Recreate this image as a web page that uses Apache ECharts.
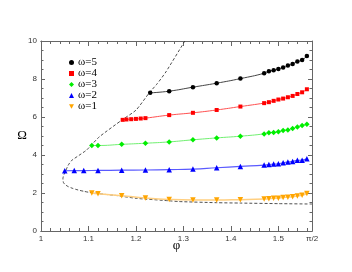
<!DOCTYPE html>
<html>
<head>
<meta charset="utf-8">
<script src="https://cdn.jsdelivr.net/npm/echarts@6/dist/echarts.min.js"></script>
<style>
html,body{margin:0;padding:0;background:#fff;}
#c{width:352px;height:272px;}
</style>
</head>
<body>
<div id="c"></div>
<script>
// ---- data ----
var xTickLabels = ['1', '1.1', '1.2', '1.3', '1.4', '1.5', 'π/2'];
var yTickLabels = ['0', '2', '4', '6', '8', '10'];
var legendNames = ['ω=5', 'ω=4', 'ω=3', 'ω=2', 'ω=1'];

var phiBoundary = [1.303, 1.263, 1.245, 1.228, 1.200, 1.172, 1.123, 1.106, 1.096, 1.080, 1.064, 1.057, 1.052, 1.049, 1.047, 1.0462, 1.0465, 1.0475, 1.051, 1.057, 1.067, 1.078, 1.090, 1.1025, 1.134, 1.155, 1.20, 1.22, 1.27, 1.29, 1.37, 1.42, 1.50, 1.5708];
var omegaBoundary = [10.0, 8.37, 7.76, 7.27, 6.36, 5.87, 4.96, 4.52, 4.26, 3.98, 3.70, 3.45, 3.17, 3.00, 2.87, 2.76, 2.64, 2.54, 2.44, 2.34, 2.24, 2.16, 2.09, 2.03, 1.93, 1.88, 1.72, 1.68, 1.59, 1.55, 1.49, 1.47, 1.44, 1.42];

var phiW5 = [1.23, 1.27, 1.32, 1.37, 1.42, 1.47, 1.48, 1.49, 1.50, 1.51, 1.52, 1.53, 1.54, 1.55, 1.56];
var omegaW5 = [7.27, 7.36, 7.57, 7.78, 8.02, 8.30, 8.41, 8.46, 8.53, 8.60, 8.71, 8.79, 8.92, 9.00, 9.21];

var phiW4 = [1.172, 1.18, 1.19, 1.20, 1.21, 1.22, 1.27, 1.32, 1.37, 1.42, 1.47, 1.48, 1.49, 1.50, 1.51, 1.52, 1.53, 1.54, 1.55, 1.56];
var omegaW4 = [5.85, 5.87, 5.885, 5.90, 5.92, 5.94, 6.10, 6.22, 6.37, 6.55, 6.73, 6.78, 6.85, 6.92, 6.97, 7.04, 7.11, 7.21, 7.30, 7.46];

var phiW3 = [1.107, 1.12, 1.17, 1.22, 1.27, 1.32, 1.37, 1.42, 1.47, 1.48, 1.49, 1.50, 1.51, 1.52, 1.53, 1.54, 1.55, 1.56];
var omegaW3 = [4.50, 4.50, 4.56, 4.62, 4.69, 4.80, 4.90, 4.99, 5.11, 5.17, 5.19, 5.22, 5.29, 5.32, 5.40, 5.47, 5.55, 5.62];

var phiW2 = [1.05, 1.07, 1.09, 1.12, 1.17, 1.22, 1.27, 1.32, 1.37, 1.42, 1.47, 1.48, 1.49, 1.50, 1.51, 1.52, 1.53, 1.54, 1.55, 1.56];
var omegaW2 = [3.17, 3.18, 3.18, 3.19, 3.20, 3.21, 3.23, 3.26, 3.33, 3.40, 3.47, 3.50, 3.52, 3.54, 3.59, 3.63, 3.66, 3.72, 3.73, 3.80];

var phiW1 = [1.107, 1.12, 1.17, 1.22, 1.27, 1.32, 1.37, 1.42, 1.47, 1.48, 1.49, 1.50, 1.51, 1.52, 1.53, 1.54, 1.55, 1.56];
var omegaW1 = [2.00, 1.96, 1.86, 1.74, 1.66, 1.63, 1.63, 1.65, 1.68, 1.70, 1.72, 1.73, 1.76, 1.78, 1.80, 1.84, 1.88, 1.97];

function zip(a, b) { return a.map(function (v, i) { return [v, b[i]]; }); }

var HALF_PI = Math.PI / 2;
var downTri = 'path://M0,0L10,0L5,9Z';

var axisColor = '#666';
var labelStyle = { fontFamily: 'Liberation Sans, Arial, sans-serif', fontSize: 8, color: '#333' };
var serif = 'Liberation Serif, Times New Roman, serif';

function xLabel(v) {
  if (Math.abs(v - HALF_PI) < 1e-6) return xTickLabels[6];
  var idx = Math.round((v - 1) / 0.1);
  return xTickLabels[idx] !== undefined ? xTickLabels[idx] : '';
}
function yLabel(v) {
  var idx = Math.round(v / 2);
  return yTickLabels[idx] !== undefined ? yTickLabels[idx] : '';
}

function xAxisDef(pos, interval, len, withLabels) {
  return {
    type: 'value', min: 1, max: HALF_PI, interval: interval, position: pos,
    axisLine: { show: true, onZero: false, lineStyle: { color: axisColor, width: 1 } },
    axisTick: { show: true, inside: true, length: len, lineStyle: { color: axisColor, width: 1 } },
    axisLabel: withLabels ? Object.assign({ show: true, margin: 4, formatter: xLabel, showMaxLabel: true, showMinLabel: true }, labelStyle) : { show: false },
    splitLine: { show: false }
  };
}

var option = {
  animation: false,
  backgroundColor: '#fff',
  grid: { left: 41, top: 41, right: 40, bottom: 41, containLabel: false },
  legend: {
    orient: 'vertical', left: 64, top: 52,
    itemWidth: 5, itemHeight: 5, itemGap: 0,
    textStyle: { fontFamily: serif, fontSize: 11, color: '#000', lineHeight: 10.8, padding: [0, 0, 0, -1] },
    data: [
      { name: legendNames[0], icon: 'circle' },
      { name: legendNames[1], icon: 'rect' },
      { name: legendNames[2], icon: 'diamond' },
      { name: legendNames[3], icon: 'triangle' },
      { name: legendNames[4], icon: downTri }
    ]
  },
  xAxis: [
    Object.assign(xAxisDef('bottom', 0.1, 5, true), {
      name: 'φ', nameLocation: 'middle', nameGap: 8, nameMoveOverlap: false,
      nameTextStyle: { fontFamily: serif, fontSize: 13, color: '#000' }
    }),
    xAxisDef('bottom', 0.02, 3, false),
    xAxisDef('top', 0.1, 5, false),
    xAxisDef('top', 0.02, 3, false)
  ],
  yAxis: [
    {
      type: 'value', min: 0, max: 10, interval: 2, position: 'left',
      name: 'Ω', nameLocation: 'middle', nameGap: 14, nameRotate: 0, nameMoveOverlap: false,
      nameTextStyle: { fontFamily: serif, fontSize: 13, color: '#000' },
      axisLine: { show: true, lineStyle: { color: axisColor } },
      axisTick: { show: true, inside: true, length: 4, lineStyle: { color: axisColor } },
      minorTick: { show: true, splitNumber: 4, length: 2.5, lineStyle: { color: axisColor } },
      axisLabel: Object.assign({ margin: 4, formatter: yLabel }, labelStyle),
      splitLine: { show: false }
    },
    {
      type: 'value', min: 0, max: 10, interval: 2, position: 'right',
      axisLine: { show: true, lineStyle: { color: axisColor } },
      axisTick: { show: true, inside: true, length: 4, lineStyle: { color: axisColor } },
      minorTick: { show: true, splitNumber: 4, length: 2.5, lineStyle: { color: axisColor } },
      axisLabel: { show: false },
      splitLine: { show: false }
    }
  ],
  series: [
    {
      name: 'boundary', type: 'line', data: zip(phiBoundary, omegaBoundary),
      smooth: 0.2, showSymbol: false, symbol: 'none', clip: true, silent: true,
      lineStyle: { color: '#222', width: 0.8, type: [3, 2] }, z: 1
    },
    {
      name: legendNames[0], type: 'line', data: zip(phiW5, omegaW5), smooth: true,
      symbol: 'circle', symbolSize: 4.5, itemStyle: { color: '#000' },
      lineStyle: { color: '#444', width: 1 }, z: 5
    },
    {
      name: legendNames[1], type: 'line', data: zip(phiW4, omegaW4), smooth: true,
      symbol: 'rect', symbolSize: 4, itemStyle: { color: '#ff0000' },
      lineStyle: { color: '#ff5050', width: 1 }, z: 5
    },
    {
      name: legendNames[2], type: 'line', data: zip(phiW3, omegaW3), smooth: true,
      symbol: 'diamond', symbolSize: 5.5, itemStyle: { color: '#00ee00' },
      lineStyle: { color: '#70f070', width: 1 }, z: 5
    },
    {
      name: legendNames[3], type: 'line', data: zip(phiW2, omegaW2), smooth: true,
      symbol: 'triangle', symbolSize: 5.5, itemStyle: { color: '#0000ff' },
      lineStyle: { color: '#5a5aff', width: 1.2 }, z: 5
    },
    {
      name: legendNames[4], type: 'line', data: zip(phiW1, omegaW1), smooth: true,
      symbol: downTri, symbolSize: 5.5, itemStyle: { color: '#ffa500' },
      lineStyle: { color: '#ffcf80', width: 1.5 }, z: 5
    }
  ]
};

var chart = echarts.init(document.getElementById('c'), null, { renderer: 'canvas' });
chart.setOption(option);
</script>
</body>
</html>
